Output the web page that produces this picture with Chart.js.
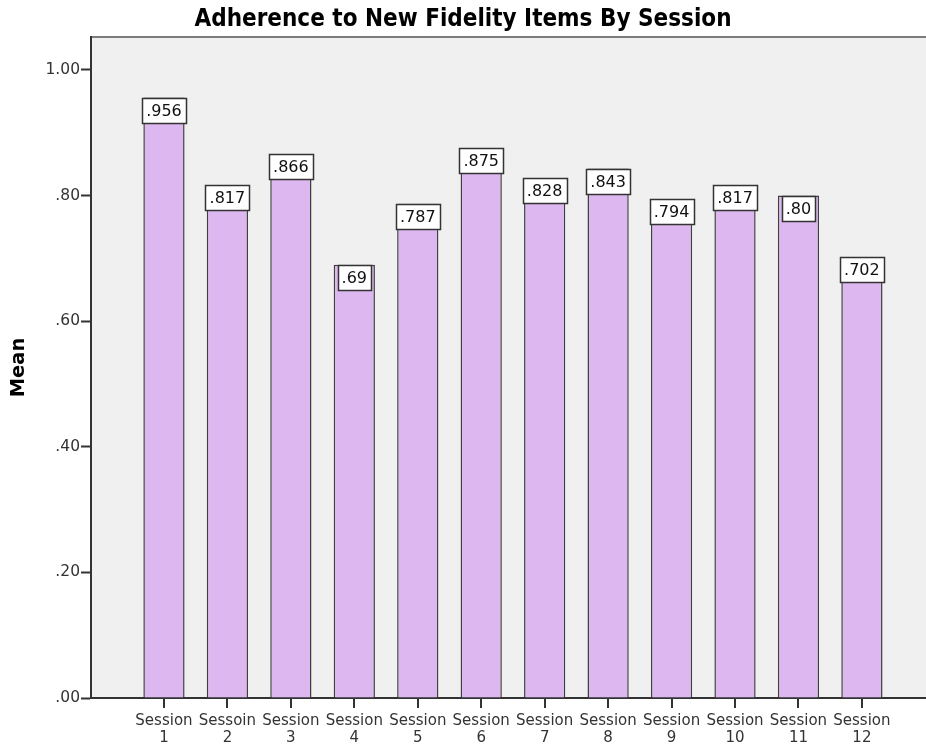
<!DOCTYPE html>
<html>
<head>
<meta charset="utf-8">
<script src="https://cdn.jsdelivr.net/npm/chart.js@4/dist/chart.umd.min.js"></script>
<style>
  html, body { margin: 0; padding: 0; background: #ffffff; }
  #wrap { width: 926px; height: 748px; }
</style>
</head>
<body>
<div id="wrap"><canvas id="chart" width="926" height="748"></canvas></div>
<script>
// Mean adherence per session
const sessionNames = ['Session', 'Sessoin', 'Session', 'Session', 'Session', 'Session',
                      'Session', 'Session', 'Session', 'Session', 'Session', 'Session'];
const sessionNumbers = ['1', '2', '3', '4', '5', '6', '7', '8', '9', '10', '11', '12'];
const meanValues = [0.956, 0.817, 0.866, 0.69, 0.787, 0.875, 0.828, 0.843, 0.794, 0.817, 0.80, 0.702];
const valueLabels = ['.956', '.817', '.866', '.69', '.787', '.875', '.828', '.843', '.794', '.817', '.80', '.702'];
const yTickValues = [0, 0.2, 0.4, 0.6, 0.8, 1.0];

const FONT = "'DejaVu Sans', sans-serif";
const TITLE_FONT = "'DejaVu Sans Condensed', 'DejaVu Sans', sans-serif";

// Shaded plot area with a grey frame line on top
const plotBackground = {
  id: 'plotBackground',
  beforeDraw(chart) {
    const { ctx, chartArea: a } = chart;
    ctx.save();
    ctx.fillStyle = '#f0f0f0';
    ctx.fillRect(a.left, a.top, a.right - a.left, a.bottom - a.top);
    ctx.strokeStyle = '#7c7c7c';
    ctx.lineWidth = 2;
    ctx.beginPath();
    ctx.moveTo(a.left, a.top);
    ctx.lineTo(a.right, a.top);
    ctx.stroke();
    ctx.restore();
  }
};

// Short tick marks under the category axis at each bar centre
const categoryTicks = {
  id: 'categoryTicks',
  afterDraw(chart) {
    const { ctx, chartArea } = chart;
    const meta = chart.getDatasetMeta(0);
    ctx.save();
    ctx.strokeStyle = '#333333';
    ctx.lineWidth = 2;
    meta.data.forEach((bar) => {
      const px = Math.round(bar.x);
      ctx.beginPath();
      ctx.moveTo(px, chartArea.bottom);
      ctx.lineTo(px, chartArea.bottom + 10);
      ctx.stroke();
    });
    ctx.restore();
  }
};

// Boxed value label inside the top of each bar
const boxedLabels = {
  id: 'boxedLabels',
  afterDatasetsDraw(chart) {
    const { ctx } = chart;
    const meta = chart.getDatasetMeta(0);
    ctx.save();
    ctx.font = '16px ' + FONT;
    ctx.textAlign = 'center';
    ctx.textBaseline = 'middle';
    meta.data.forEach((bar, i) => {
      const text = valueLabels[i];
      const w = Math.round(ctx.measureText(text).width + 8);
      const h = 25;
      const left = Math.round(bar.x - w / 2) + 0.5;
      const top = Math.round(bar.y) + 0.5;
      ctx.fillStyle = '#ffffff';
      ctx.fillRect(left, top, w, h);
      ctx.strokeStyle = '#333333';
      ctx.lineWidth = 1.5;
      ctx.strokeRect(left, top, w, h);
      ctx.fillStyle = '#111111';
      ctx.fillText(text, bar.x, top + h / 2 + 1);
    });
    ctx.restore();
  }
};

new Chart(document.getElementById('chart'), {
  type: 'bar',
  data: {
    datasets: [{
      data: meanValues.map((v, i) => ({ x: i, y: v })),
      backgroundColor: '#dcb7f0',
      borderColor: '#3f3f3f',
      borderWidth: 1.5,
      barPercentage: 0.65,
      categoryPercentage: 1.0
    }]
  },
  options: {
    responsive: false,
    animation: false,
    layout: { padding: { left: 0, right: 0, top: 0, bottom: 0 } },
    plugins: {
      legend: { display: false },
      tooltip: { enabled: false },
      title: {
        display: true,
        text: 'Adherence to New Fidelity Items By Session',
        color: '#000000',
        font: { family: TITLE_FONT, size: 24, weight: 'bold' },
        padding: { top: 5.6, bottom: 2.6 }
      }
    },
    scales: {
      x: {
        type: 'linear',
        offset: false,
        min: -1.15,
        max: 12.01,
        afterBuildTicks(scale) {
          scale.ticks = sessionNumbers.map((_, i) => ({ value: i }));
        },
        afterFit(scale) { scale.height = 50; },
        grid: {
          display: false,
          drawTicks: false
        },
        border: { display: true, color: '#333333', width: 2 },
        ticks: {
          autoSkip: false,
          maxRotation: 0,
          padding: 14,
          color: '#333333',
          font: { family: FONT, size: 15, lineHeight: 1.16 },
          callback: (v) => [sessionNames[v], sessionNumbers[v]]
        }
      },
      y: {
        min: 0,
        max: 1.0525,
        afterBuildTicks(scale) {
          scale.ticks = yTickValues.map(v => ({ value: v }));
        },
        afterFit(scale) { scale.width = 91; },
        grid: {
          display: true,
          drawOnChartArea: false,
          drawTicks: true,
          tickLength: 10,
          tickWidth: 2,
          tickColor: '#333333'
        },
        border: { display: true, color: '#333333', width: 2 },
        ticks: {
          padding: 1,
          color: '#333333',
          font: { family: FONT, size: 15.5 },
          callback: (v) => v.toFixed(2).replace(/^0/, '')
        },
        title: {
          display: true,
          text: 'Mean',
          color: '#000000',
          font: { family: FONT, size: 19.5, weight: 'bold' },
          padding: { top: 7, bottom: 0 }
        }
      }
    }
  },
  plugins: [plotBackground, categoryTicks, boxedLabels]
});
</script>
</body>
</html>
